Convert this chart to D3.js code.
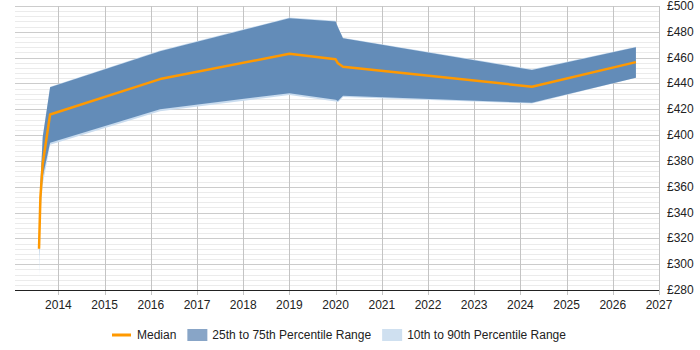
<!DOCTYPE html>
<meta charset="utf-8">
<html>
<head>
<title>Rate trend</title>
<script src="https://cdn.jsdelivr.net/npm/d3@7"></script>
<style>
    *{ margin:0; padding:0;}
    body{ background:#fff;}
    svg text{ font-family:'Liberation Sans', Arial, sans-serif; font-size:12px; fill:#222;}
</style>
</head>
<body>
<div id="chart"></div>
<script>
    // values
    var years = [2013.58, 2013.61, 2013.66, 2013.82, 2016.2, 2019.0, 2020.0, 2020.05, 2020.16, 2024.25, 2026.5];
    var p10   = [290, 338, 362, 392.5, 418.5, 431, 426, 425.5, 429.5, 424.5, 444.5];
    var p25   = [306, 346, 368, 394, 420, 432.5, 427.3, 426.5, 430.5, 425, 444.5];
    var p50   = [312, 352, 378, 416, 443.4, 463, 458.7, 455.6, 453, 437.5, 456.5];
    var p75   = [314, 362, 398.5, 437, 465, 490.5, 488, 483.5, 475, 450.5, 468];
    var p90   = [316, 364, 399, 437.5, 465.5, 491, 488.5, 484, 475.5, 451, 468.5];
    var xTicks = [2014, 2015, 2016, 2017, 2018, 2019, 2020, 2021, 2022, 2023, 2024, 2025, 2026, 2027];
    var yTicks = [280, 300, 320, 340, 360, 380, 400, 420, 440, 460, 480, 500];

    var W = 700, H = 350;
    var svg = d3.select("#chart").append("svg").attr("width", W).attr("height", H);

    var x = d3.scaleLinear().domain([2013.06, 2027]).range([15, 659]);
    var y = d3.scaleLinear().domain([280, 500]).range([290, 6]);

    var rows = years.map(function (yr, i) {
        return {yr: yr, p10: p10[i], p25: p25[i], p50: p50[i], p75: p75[i], p90: p90[i]};
    });

    // minor grid every 4
    svg.append("g").selectAll("line")
        .data(d3.range(280, 501, 4).filter(function (v) { return v % 20 != 0; }))
        .enter().append("line")
        .attr("x1", 15).attr("x2", 659)
        .attr("y1", function (d) { return Math.round(y(d)) + 0.5; })
        .attr("y2", function (d) { return Math.round(y(d)) + 0.5; })
        .attr("stroke", "#ebebeb");

    // major grid
    svg.append("g").selectAll("line")
        .data(yTicks)
        .enter().append("line")
        .attr("x1", 15).attr("x2", 659)
        .attr("y1", function (d) { return Math.round(y(d)) + 0.5; })
        .attr("y2", function (d) { return Math.round(y(d)) + 0.5; })
        .attr("stroke", "#cccccc");

    svg.append("g").selectAll("line")
        .data(xTicks)
        .enter().append("line")
        .attr("x1", function (d) { return Math.round(x(d)) + 0.5; })
        .attr("x2", function (d) { return Math.round(x(d)) + 0.5; })
        .attr("y1", 6).attr("y2", 295)
        .attr("stroke", "#c4c4c4");

    // bands
    var outer = d3.area()
        .x(function (d) { return x(d.yr); })
        .y0(function (d) { return y(d.p10); })
        .y1(function (d) { return y(d.p90); });
    var inner = d3.area()
        .x(function (d) { return x(d.yr); })
        .y0(function (d) { return y(d.p25); })
        .y1(function (d) { return y(d.p75); });
    var mid = d3.line()
        .x(function (d) { return x(d.yr); })
        .y(function (d) { return y(d.p50); });

    svg.append("path").datum(rows).attr("d", outer).attr("fill", "#c9dcef");
    svg.append("path").datum(rows).attr("d", inner).attr("fill", "#4a78aa").attr("fill-opacity", 0.8);
    svg.append("path").datum(rows).attr("d", mid)
        .attr("fill", "none").attr("stroke", "#ff9900").attr("stroke-width", 2.5)
        .attr("stroke-linejoin", "round");

    // x axis
    svg.append("line").attr("x1", 15).attr("x2", 659).attr("y1", 290.5).attr("y2", 290.5)
        .attr("stroke", "#222").attr("stroke-width", 1.2);
    svg.append("g").selectAll("text")
        .data(xTicks)
        .enter().append("text")
        .attr("x", function (d) { return x(d); })
        .attr("y", 309)
        .attr("text-anchor", "middle")
        .text(function (d) { return d; });

    // y axis labels on the right
    svg.append("g").selectAll("text")
        .data(yTicks)
        .enter().append("text")
        .attr("x", 667)
        .attr("y", function (d) { return y(d) + 4; })
        .text(function (d) { return "£" + d; });

    // legend
    var legend = svg.append("g");
    var lx = 112, ly = 335;
    legend.append("line").attr("x1", lx).attr("x2", lx + 19).attr("y1", ly).attr("y2", ly)
        .attr("stroke", "#ff9900").attr("stroke-width", 3);
    var t1 = legend.append("text").attr("x", lx + 25).attr("y", ly + 4).text("Median");
    lx = lx + 25 + t1.node().getComputedTextLength() + 11;
    legend.append("rect").attr("x", lx).attr("y", ly - 6).attr("width", 20).attr("height", 12)
        .attr("fill", "#88a5c7");
    var t2 = legend.append("text").attr("x", lx + 25).attr("y", ly + 4).text("25th to 75th Percentile Range");
    lx = lx + 25 + t2.node().getComputedTextLength() + 11;
    legend.append("rect").attr("x", lx).attr("y", ly - 6).attr("width", 20).attr("height", 12)
        .attr("fill", "#cfe0f0");
    legend.append("text").attr("x", lx + 25).attr("y", ly + 4).text("10th to 90th Percentile Range");
</script>
</body>
</html>
